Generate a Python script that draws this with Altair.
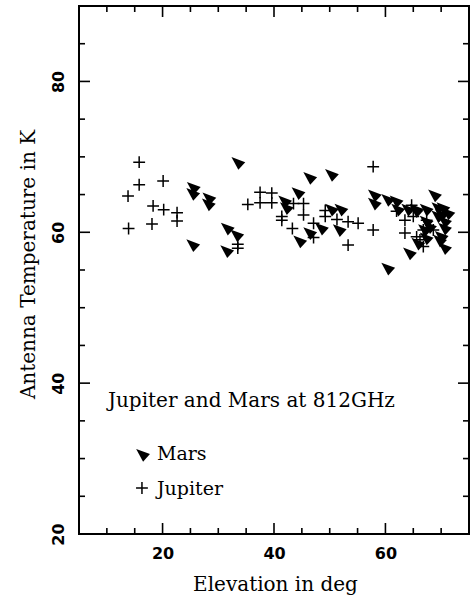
import altair as alt
import pandas as pd

# ---- data ----
jup_x = [13.8, 15.8, 15.8, 13.9, 20.1, 18.3, 20.2, 22.6, 22.6, 18.1,
         33.5, 33.5, 35.3, 37.5, 39.6, 37.5, 39.6, 41.4, 41.4, 43.5,
         45.3, 45.3, 43.3, 47.1, 47.1, 49.2, 49.2, 51.3, 53.3, 55.1,
         53.3, 57.8, 57.8, 62.0, 64.7, 63.5, 63.5, 65.0, 65.6, 66.8,
         67.4, 66.2, 66.8, 68.6]
jup_y = [64.8, 69.3, 66.3, 60.5, 66.8, 63.5, 63.0, 62.6, 61.5, 61.1,
         58.4, 57.9, 63.7, 65.3, 65.2, 63.9, 63.9, 62.1, 61.6, 63.8,
         63.8, 62.3, 60.5, 61.2, 59.3, 62.9, 62.1, 61.7, 61.4, 61.2,
         58.3, 68.7, 60.3, 62.8, 63.6, 61.6, 59.9, 62.1, 59.4, 60.3,
         61.6, 59.0, 58.1, 60.3]

mars_x = [25.6, 25.5, 28.4, 28.3, 25.5, 33.6, 31.7, 33.4, 31.6, 46.5,
          50.4, 44.4, 42.0, 42.3, 44.7, 46.5, 48.6, 50.4, 52.1, 51.8,
          58.1, 58.1, 60.5, 62.0, 62.3, 60.5, 64.1, 65.6, 67.4, 64.4,
          65.9, 67.4, 67.1, 67.4, 68.9, 69.5, 70.1, 70.7, 70.1, 68.0,
          70.4, 71.3, 70.7, 69.8, 70.7, 69.5, 65.6]
mars_y = [65.9, 65.1, 64.5, 63.7, 58.3, 69.2, 60.5, 59.6, 57.5, 67.2,
          67.6, 65.2, 64.1, 63.2, 58.8, 59.9, 60.5, 63.0, 63.0, 60.3,
          64.9, 63.8, 64.3, 64.1, 63.0, 55.2, 63.0, 63.0, 63.0, 57.2,
          58.5, 59.2, 60.3, 61.4, 64.9, 63.2, 62.3, 61.4, 59.4, 60.7,
          63.2, 62.5, 60.5, 58.9, 57.9, 62.1, 62.8]

x_ticks = list(range(5, 80, 5))
y_ticks = list(range(20, 95, 5))
x_label_values = [20, 40, 60]
y_label_values = [20, 40, 60, 80]

title_text = "Jupiter and Mars at 812GHz"
legend_names = ["Mars", "Jupiter"]
x_title = "Elevation in deg"
y_title = "Antenna Temperature in K"

# ---- layout / style ----
W, H = 390, 528
SERIF = "DejaVu Serif"
TRI = "M -1 -0.85 L 1 -0.1 L 0 1 Z"
PLUS = "M -1 0 L 1 0 M 0 -1 L 0 1"
TRI_SIZE = 190
PLUS_SIZE = 140

xs = alt.Scale(domain=[5, 75], nice=False, zero=False)
ys = alt.Scale(domain=[20, 90], nice=False, zero=False)

xaxis = alt.Axis(values=x_label_values, tickSize=0, domain=False, grid=False,
                 labelFont="DejaVu Sans", labelFontWeight="bold", labelFontSize=16,
                 labelPadding=11, labelColor="black",
                 title=x_title, titleFont=SERIF, titleFontSize=20,
                 titleFontWeight="normal", titleColor="black",
                 titleX=196, titleY=50, titleBaseline="middle", titleAlign="center")
yaxis = alt.Axis(values=y_label_values, tickSize=0, domain=False, grid=False,
                 labelFont="DejaVu Sans", labelFontWeight="bold", labelFontSize=16,
                 labelPadding=13, labelAngle=270, labelAlign="center",
                 labelBaseline="bottom", labelColor="black",
                 title=y_title, titleFont=SERIF, titleFontSize=20,
                 titleFontWeight="normal", titleColor="black", titleAngle=270,
                 titleX=-51, titleY=258, titleBaseline="middle", titleAlign="center")


def X(field):
    return alt.X(field, type="quantitative", scale=xs, axis=xaxis)


def Y(field):
    return alt.Y(field, type="quantitative", scale=ys, axis=yaxis)


jup = pd.DataFrame({"x": jup_x, "y": jup_y})
mars = pd.DataFrame({"x": mars_x, "y": mars_y})
xt = pd.DataFrame({"v": x_ticks})
yt = pd.DataFrame({"v": y_ticks})

mars_layer = alt.Chart(mars).mark_point(shape=TRI, filled=True, color="black",
                                        size=TRI_SIZE, opacity=1).encode(x=X("x"), y=Y("y"))
jup_layer = alt.Chart(jup).mark_point(shape=PLUS, filled=False, color="black",
                                      strokeWidth=1.5, size=PLUS_SIZE, opacity=1).encode(x=X("x"), y=Y("y"))

MAJ, MIN = 11, 6


def xtick_layer(major, bottom):
    flt = "datum.v % 20 == 0" if major else "datum.v % 20 != 0"
    L = MAJ if major else MIN
    if bottom:
        yy, yy2 = H, H - L
    else:
        yy, yy2 = 0, L
    return alt.Chart(xt).transform_filter(flt).mark_rule(color="black", strokeWidth=1.6).encode(
        x=X("v"), y=alt.value(yy), y2=alt.value(yy2))


def ytick_layer(major, left):
    flt = "datum.v % 20 == 0" if major else "datum.v % 20 != 0"
    L = MAJ if major else MIN
    if left:
        xx, xx2 = 0, L
    else:
        xx, xx2 = W, W - L
    return alt.Chart(yt).transform_filter(flt).mark_rule(color="black", strokeWidth=1.6).encode(
        y=Y("v"), x=alt.value(xx), x2=alt.value(xx2))


ticks = [xtick_layer(m, b) for m in (True, False) for b in (True, False)] + \
        [ytick_layer(m, l) for m in (True, False) for l in (True, False)]

title_df = pd.DataFrame({"x": [10.2], "y": [36.8], "t": [title_text]})
title_layer = alt.Chart(title_df).mark_text(font=SERIF, fontSize=20, align="left",
                                            baseline="alphabetic", color="black").encode(
    x=X("x"), y=Y("y"), text="t:N")

leg_txt = pd.DataFrame({"x": [19.0, 19.0], "y": [29.8, 25.2], "t": legend_names})
leg_text_layer = alt.Chart(leg_txt).mark_text(font=SERIF, fontSize=19, align="left",
                                              baseline="alphabetic", color="black").encode(
    x=X("x"), y=Y("y"), text="t:N")
leg_mars = alt.Chart(pd.DataFrame({"x": [16.5], "y": [30.5]})).mark_point(
    shape=TRI, filled=True, color="black", size=TRI_SIZE, opacity=1).encode(x=X("x"), y=Y("y"))
leg_jup = alt.Chart(pd.DataFrame({"x": [16.3], "y": [26.1]})).mark_point(
    shape=PLUS, filled=False, color="black", strokeWidth=1.5, size=PLUS_SIZE, opacity=1).encode(
    x=X("x"), y=Y("y"))

chart = alt.layer(mars_layer, jup_layer, *ticks, title_layer, leg_text_layer,
                  leg_mars, leg_jup).properties(
    width=W, height=H,
    padding={"left": 79, "top": 6, "right": 3, "bottom": 67},
    autosize=alt.AutoSizeParams(type="none"),
    background="white",
).configure_view(stroke="black", strokeWidth=2)

chart.save("out.html", embed_options={"renderer": "svg", "actions": False})
